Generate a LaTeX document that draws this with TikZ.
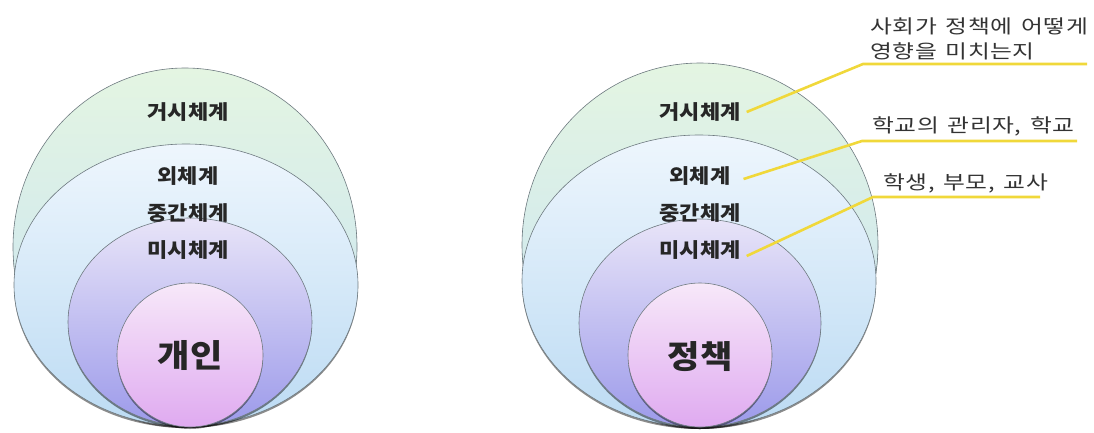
\documentclass[tikz,border=0pt]{standalone}
\usepackage{fontspec}
\setmainfont{Noto Sans CJK KR}
\newfontfamily\widecjk[FakeStretch=1.25, LetterSpace=3, WordSpace=1.5]{Noto Sans CJK KR}
\newfontfamily\lvlcjk[FakeStretch=1.1]{Noto Sans CJK KR}
\usetikzlibrary{shapes.geometric,shadows}
\definecolor{outerT}{HTML}{E4F5E2}
\definecolor{outerB}{HTML}{C6E2F4}
\definecolor{midT}{HTML}{EEF6FD}
\definecolor{midB}{HTML}{BCDBF3}
\definecolor{microT}{HTML}{E8E4F8}
\definecolor{microB}{HTML}{9C9AEA}
\definecolor{coreT}{HTML}{F7E8F9}
\definecolor{coreB}{HTML}{DFAAF0}
\definecolor{leader}{HTML}{F0D83A}
\definecolor{rim}{HTML}{6E7A80}
\tikzset{
  ring/.style={ellipse, inner sep=0pt, draw=rim, line width=0.6pt, shading=axis, shading angle=0,
    drop shadow={shadow xshift=0pt, shadow yshift=-2pt, fill=black, opacity=0.45}},
  lvl/.style={font=\lvlcjk\fontsize{20}{24}\selectfont\bfseries, text=black!85, inner sep=1pt},
  core/.style={font=\lvlcjk\fontsize{32}{36}\selectfont\bfseries, text=black!85},
  note/.style={font=\widecjk\fontsize{19}{25}\selectfont, text=black!80, align=left, inner sep=0pt, anchor=south west},
  lead/.style={draw=leader, line width=2.6pt}
}
\begin{document}
\begin{tikzpicture}[x=1pt,y=-1pt]
\useasboundingbox (0,0) rectangle (1094,432);
% left diagram
\node[ring, top color=outerT, bottom color=outerB, minimum width=344pt, minimum height=358pt] (Lo) at (185,247) {};
\node[ring, top color=midT, bottom color=midB, minimum width=344pt, minimum height=282pt] (Lm) at (186,285) {};
\node[ring, top color=microT, bottom color=microB, minimum width=244pt, minimum height=208pt] (Li) at (190,322) {};
\node[ring, top color=coreT, bottom color=coreB, minimum width=146pt, minimum height=144pt] (Lc) at (190,355) {};
\node[lvl] (Lt1) at (188,112) {거시체계};
\node[lvl] (Lt2) at (188,176) {외체계};
\node[lvl] (Lt3) at (188,213) {중간체계};
\node[lvl] (Lt4) at (188,250) {미시체계};
\node[core] (Lt5) at (190,355) {개인};
% right diagram
\node[ring, top color=outerT, bottom color=outerB, minimum width=356pt, minimum height=364pt] (Ro) at (700,245) {};
\node[ring, top color=midT, bottom color=midB, minimum width=354pt, minimum height=292pt] (Rm) at (699,281) {};
\node[ring, top color=microT, bottom color=microB, minimum width=242pt, minimum height=208pt] (Ri) at (700,323) {};
\node[ring, top color=coreT, bottom color=coreB, minimum width=144pt, minimum height=144pt] (Rc) at (700,355) {};
\node[lvl] (Rt1) at (700,112) {거시체계};
\node[lvl] (Rt2) at (700,176) {외체계};
\node[lvl] (Rt3) at (700,213) {중간체계};
\node[lvl] (Rt4) at (700,250) {미시체계};
\node[core] (Rt5) at (700,357) {정책};
% leaders
\coordinate (k1) at (863,64);
\coordinate (e1) at (1087,64);
\coordinate (k2) at (862,141);
\coordinate (e2) at (1077,141);
\coordinate (k3) at (873,197);
\coordinate (e3) at (1040,197);
\draw[lead] ([xshift=5pt]Rt1.east) -- (k1) -- (e1);
\draw[lead] ([xshift=12pt,yshift=-3pt]Rt2.east) -- (k2) -- (e2);
\draw[lead] ([xshift=5pt,yshift=-6pt]Rt4.east) -- (k3) -- (e3);
\node[note] (n1) at (870,60) {사회가 정책에 어떻게\\영향을 미치는지};
\node[note] (n2) at (872,136) {학교의 관리자, 학교};
\node[note] (n3) at (883,193) {학생, 부모, 교사};
\end{tikzpicture}
\end{document}
